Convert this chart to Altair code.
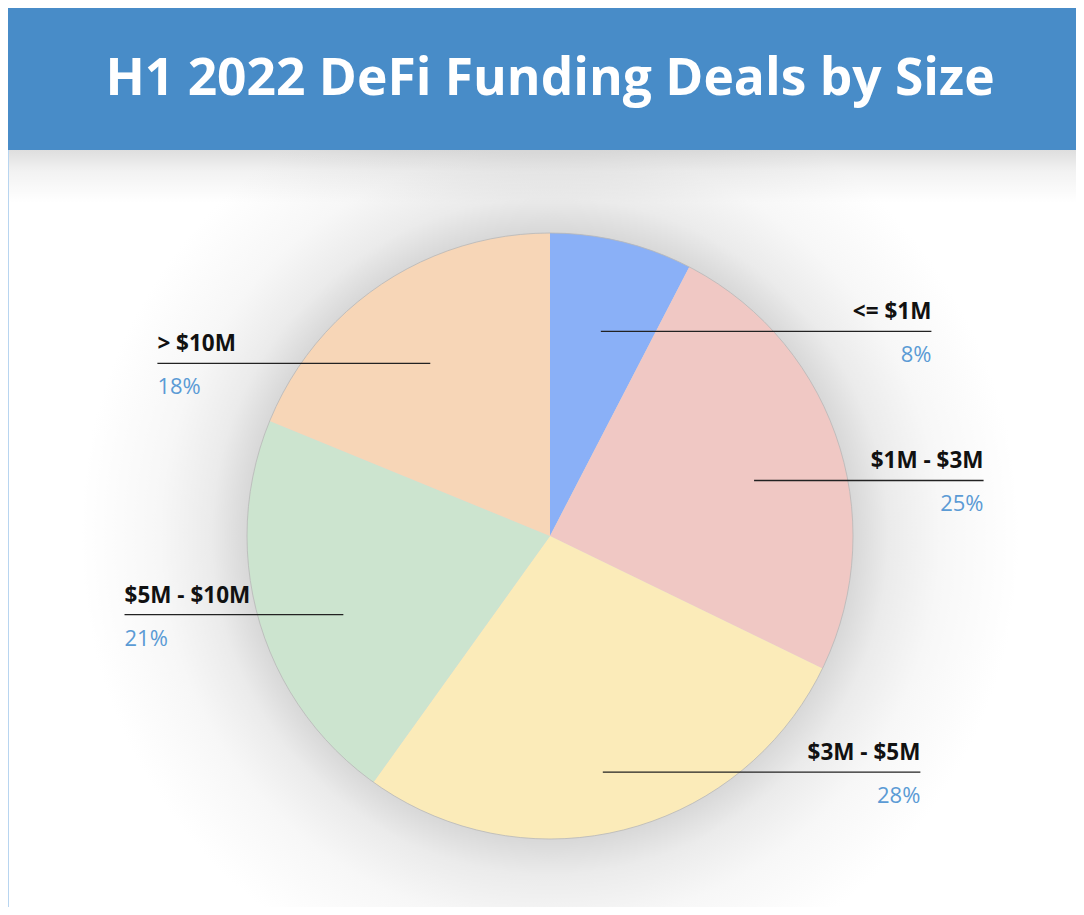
import altair as alt
import pandas as pd

# ---- data (slice sizes; labels as printed) ----
categories = ["<= $1M", "$1M - $3M", "$3M - $5M", "$5M - $10M", "> $10M"]
shares = [7.6, 24.6, 27.7, 21.3, 18.8]
pct_labels = ["8%", "25%", "28%", "21%", "18%"]
colors = ["#8AB0F7", "#F0C8C4", "#FBEBB9", "#CCE4CF", "#F7D6B7"]
title_text = "H1 2022 DeFi Funding Deals by Size"

# ---- layout ----
W, H = 1068, 899
CX, CY, R = 542, 528, 303
LR = 215          # radius at which a leader line meets its slice
OUT = 453         # horizontal reach of leader lines
BANNER_BOTTOM = 142
FONT = "Open Sans"

df = pd.DataFrame({"category": categories, "share": shares,
                   "pct": pct_labels, "idx": list(range(len(categories)))})
one = pd.DataFrame({"k": [0]})

# decorative background
glow = alt.Chart(one).mark_arc(
    theta=0, theta2=6.2832, outerRadius=470,
    fill={"gradient": "radial", "x1": 0.5, "y1": 0.5, "r1": 0,
          "x2": 0.5, "y2": 0.5, "r2": 0.5,
          "stops": [{"offset": 0, "color": "#d8d8d8"},
                    {"offset": 0.645, "color": "#d8d8d8"},
                    {"offset": 0.72, "color": "#ebebeb"},
                    {"offset": 0.83, "color": "#f7f7f7"},
                    {"offset": 1, "color": "#ffffff"}]},
).encode(x=alt.value(CX), y=alt.value(CY))

banner_shadow = alt.Chart(one).mark_rect(
    fill={"gradient": "linear", "x1": 0, "y1": 0, "x2": 0, "y2": 1,
          "stops": [{"offset": 0, "color": "rgba(0,0,0,0.13)"},
                    {"offset": 0.4, "color": "rgba(0,0,0,0.05)"},
                    {"offset": 1, "color": "rgba(0,0,0,0)"}]}
).encode(x=alt.value(0), x2=alt.value(W), y=alt.value(BANNER_BOTTOM), y2=alt.value(195))

banner = alt.Chart(one).mark_rect(color="#488CC8").encode(
    x=alt.value(0), x2=alt.value(W), y=alt.value(0), y2=alt.value(BANNER_BOTTOM))

left_border = alt.Chart(one).mark_rule(color="#B8D5F0", strokeWidth=1).encode(
    x=alt.value(0.5), y=alt.value(BANNER_BOTTOM), y2=alt.value(H))

title = alt.Chart(one).mark_text(
    text=title_text, font=FONT, fontSize=51.5, fontWeight="bold", color="#ffffff",
    align="center", baseline="alphabetic"
).encode(x=alt.value(CX), y=alt.value(87))

# pie
pie = alt.Chart(df).mark_arc(outerRadius=R).encode(
    theta=alt.Theta("share:Q", stack=True),
    color=alt.Color("category:N", scale=alt.Scale(domain=categories, range=colors), legend=None),
    order=alt.Order("idx:Q"),
    x=alt.value(CX), y=alt.value(CY),
)

rim = alt.Chart(one).mark_arc(
    theta=0, theta2=6.2832, outerRadius=R, fillOpacity=0,
    stroke="#b8b8b8", strokeWidth=0.8
).encode(x=alt.value(CX), y=alt.value(CY))

# labels positioned from each slice's mid-angle
lab = alt.Chart(df).transform_joinaggregate(
    total="sum(share)"
).transform_window(
    cum="sum(share)", sort=[alt.SortField("idx")]
).transform_calculate(
    ang="2*PI*(datum.cum - datum.share/2)/datum.total"
).transform_calculate(
    ly=f"{CY} + 4 - {LR}*cos(datum.ang) + 24*(1 - cos(datum.ang))/2",
    lxin=f"{CX} + {LR}*sin(datum.ang)",
    side="sin(datum.ang) >= 0 ? 1 : -1",
).transform_calculate(
    lxout=f"{CX} + datum.side*({OUT} - 0.35*abs(datum.ly - {CY}))",
    ty="datum.ly - 12",
    py="datum.ly + 31",
)

lines = lab.mark_rule(color="#222222", strokeWidth=1.3).encode(
    x=alt.X("lxin:Q", scale=None, axis=None),
    x2="lxout:Q",
    y=alt.Y("ly:Q", scale=None, axis=None),
)

def texts(side_filter, align):
    sub = lab.transform_filter(side_filter)
    name = sub.mark_text(align=align, baseline="alphabetic", font=FONT, fontSize=22.5,
                         fontWeight="bold", color="#111111").encode(
        x=alt.X("lxout:Q", scale=None, axis=None),
        y=alt.Y("ty:Q", scale=None, axis=None),
        text="category:N")
    pct = sub.mark_text(align=align, baseline="alphabetic", font=FONT, fontSize=22,
                        color="#5B9BD5").encode(
        x=alt.X("lxout:Q", scale=None, axis=None),
        y=alt.Y("py:Q", scale=None, axis=None),
        text="pct:N")
    return name + pct

right_texts = texts("datum.side > 0", "right")
left_texts = texts("datum.side < 0", "left")

chart = alt.layer(
    glow, banner_shadow, banner, left_border, title, pie, rim, lines, right_texts, left_texts
).properties(
    width=W, height=H, autosize="none", padding=0, background="#ffffff"
).configure_view(stroke=None)

chart.save("out.html", embed_options={"renderer": "svg", "actions": False})
